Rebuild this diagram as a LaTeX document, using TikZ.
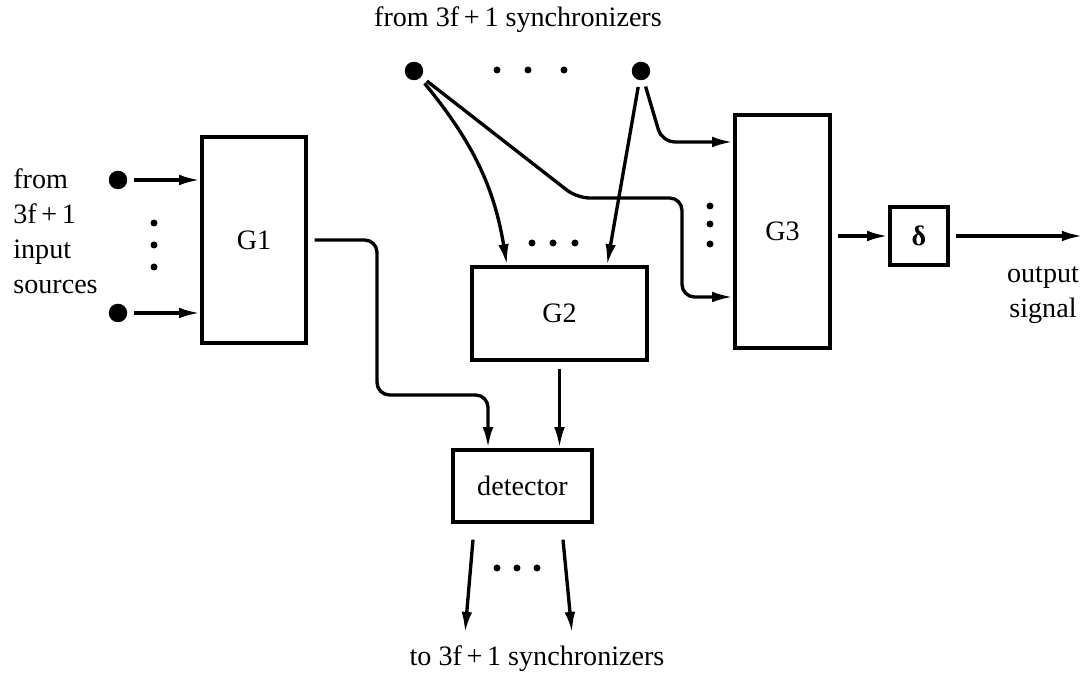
\documentclass[tikz,border=0pt]{standalone}
\usepackage{fontspec}
\setmainfont{Liberation Serif}
\usetikzlibrary{arrows.meta}
\tikzset{
  blk/.style={draw, line width=1.9pt, inner sep=0pt},
  bigdot/.style={circle, fill, inner sep=0pt, minimum size=0.37cm, outer sep=0.14cm},
  smalldot/.style={circle, fill, inner sep=0pt, minimum size=0.14cm},
  arr/.style={line width=1.9pt, -{Latex[length=12pt,width=6pt]}},
  lbl/.style={inner sep=0pt},
}
\begin{document}
\begin{tikzpicture}[font=\fontsize{16}{20}\selectfont]
\useasboundingbox (0,0) rectangle (21.840,13.580);
\node[blk, minimum width=2.080cm, minimum height=4.120cm] (G1) at (5.080,8.780) {G1};
\node[blk, minimum width=3.500cm, minimum height=1.860cm] (G2) at (11.190,7.310) {G2};
\node[blk, minimum width=1.900cm, minimum height=4.660cm] (G3) at (15.650,8.950) {G3};
\node[blk, minimum width=1.160cm, minimum height=1.160cm] (delta) at (18.380,8.860) {\textbf{δ}};
\node[blk, minimum width=2.780cm, minimum height=1.440cm] (det) at (10.450,3.860) {detector};
\node[bigdot] (in1) at (2.360,9.980) {};
\node[bigdot] (in2) at (2.360,7.320) {};
\node[bigdot] (s1) at (8.280,12.160) {};
\node[bigdot] (s2) at (12.820,12.160) {};
\node[smalldot] (v1) at (3.080,9.120) {};
\node[smalldot] (v2) at (3.080,8.680) {};
\node[smalldot] (v3) at (3.080,8.240) {};
\node[smalldot] (t1) at (9.940,12.180) {};
\node[smalldot] (t2) at (10.560,12.180) {};
\node[smalldot] (t3) at (11.280,12.180) {};
\node[smalldot] (m1) at (10.640,8.720) {};
\node[smalldot] (m2) at (11.060,8.720) {};
\node[smalldot] (m3) at (11.500,8.720) {};
\node[smalldot] (r1) at (14.200,9.460) {};
\node[smalldot] (r2) at (14.200,9.100) {};
\node[smalldot] (r3) at (14.200,8.700) {};
\node[smalldot] (b1) at (9.940,2.220) {};
\node[smalldot] (b2) at (10.340,2.220) {};
\node[smalldot] (b3) at (10.740,2.220) {};
\node[lbl] (fromsync) at (10.360,13.180) {from 3f\,+\,1 synchronizers};
\node[lbl] (tosync) at (10.740,0.400) {to 3f\,+\,1 synchronizers};
\node[lbl, align=left, anchor=west] (src) at (0.260,8.960) {from\\3f\,+\,1\\input\\sources};
\node[lbl, align=center] (outsig) at (20.860,7.670) {output\\signal};
\coordinate (g1turn) at (7.540,5.680);
\coordinate (k1) at (11.540,9.620);
\coordinate (k2) at (13.640,9.620);
\coordinate (k3) at (13.240,10.740);
\coordinate (o1) at (9.300,0.920);
\coordinate (o2) at (11.440,0.920);
\coordinate (outend) at (21.660,8.860);
\draw[arr] (in1) -- (in1 -| G1.west);
\draw[arr] (in2) -- (in2 -| G1.west);
\draw[arr, rounded corners=0.25cm] ([xshift=0.14cm]G1.east) -| (g1turn) -| ([xshift=-0.69cm]det.north);
\draw[arr] ([yshift=-0.14cm]G2.south) -- (G2.south |- det.north);
\draw[arr] ([xshift=-0.99cm,yshift=-0.32cm]det.south) -- (o1);
\draw[arr] ([xshift=0.81cm,yshift=-0.32cm]det.south) -- (o2);
\draw[arr] (s1) to[bend left=15] ([xshift=-1.05cm]G2.north);
\draw[arr] (s2) -- ([xshift=0.95cm]G2.north);
\draw[arr, rounded corners=0.25cm] (s1) -- (k1) -- (k2) |- ([yshift=-1.31cm]G3.west);
\draw[arr, rounded corners=0.25cm] (s2) -- (k3) -- ([yshift=1.79cm]G3.west);
\draw[arr] ([xshift=0.12cm]G3.east |- delta.west) -- (delta.west);
\draw[arr] ([xshift=0.12cm]delta.east) -- (outend);
\end{tikzpicture}
\end{document}
